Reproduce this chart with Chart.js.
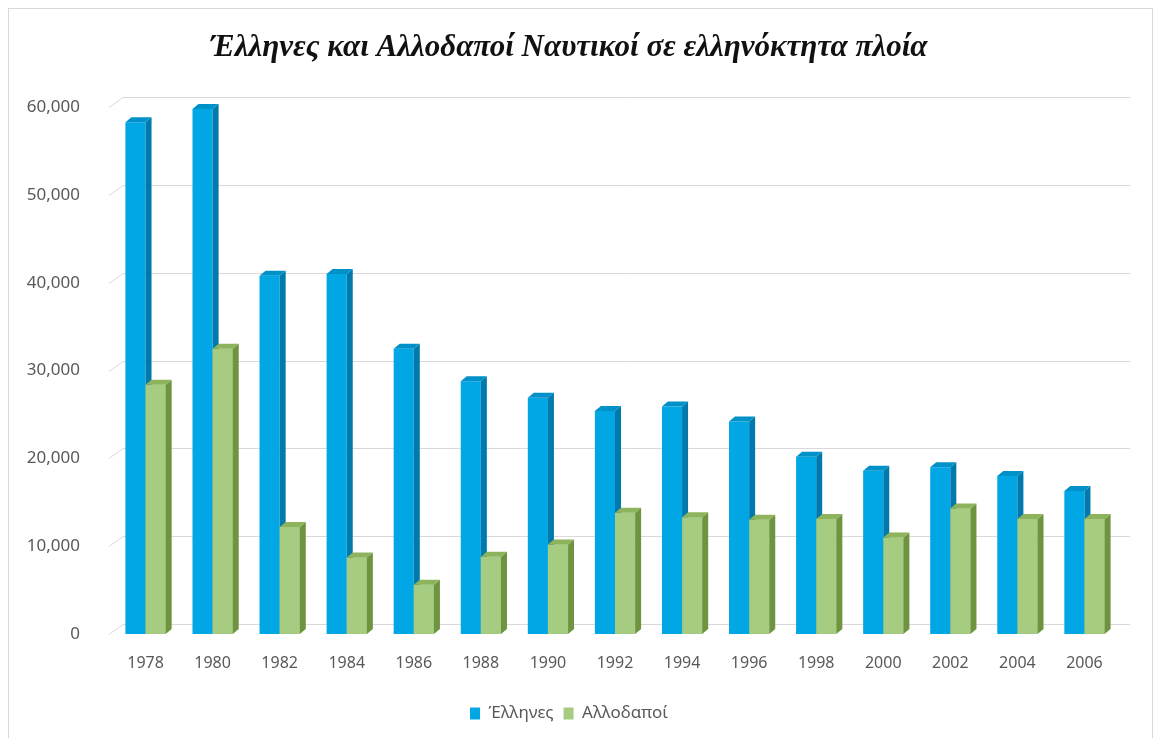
<!DOCTYPE html>
<html>
<head>
<meta charset="utf-8">
<script src="https://cdn.jsdelivr.net/npm/chart.js@4/dist/chart.umd.min.js"></script>
<style>
  html, body { margin: 0; padding: 0; background: #fff; overflow: hidden; }
  #frame { position: absolute; left: 8px; top: 8px; width: 1143px; height: 760px; border: 1px solid #d9d9d9; }
  #wrap { position: absolute; left: 0; top: 0; width: 1159px; height: 738px; }
</style>
</head>
<body>
<div id="frame"></div>
<div id="wrap"><canvas id="chart" width="1159" height="738"></canvas></div>
<script>
// years on the x axis
const years = ['1978', '1980', '1982', '1984', '1986', '1988', '1990', '1992',
  '1994', '1996', '1998', '2000', '2002', '2004', '2006'];

// Greek seafarers
const greeks = [58300, 59800, 40800, 41000, 32500, 28800, 26900, 25400,
  25900, 24200, 20200, 18600, 19000, 18000, 16300];

// foreign seafarers
const foreigners = [28400, 32500, 12200, 8700, 5600, 8800, 10200, 13800,
  13300, 13000, 13100, 11000, 14300, 13100, 13100];

const yTicks = [0, 10000, 20000, 30000, 40000, 50000, 60000];

const title = 'Έλληνες και Αλλοδαποί Ναυτικοί σε ελληνόκτητα πλοία';

// faces for the fake 3d look: [side, top]
const faceColors = [
  ['#0079ad', '#0091c9'],
  ['#6f9440', '#8db35c']
];

// back wall grid lines, shifted up and right like the excel 3d chart
const wallGrid = {
  id: 'wallGrid',
  beforeDatasetsDraw(chart) {
    const ctx = chart.ctx;
    const y = chart.scales.y;
    const area = chart.chartArea;
    ctx.save();
    ctx.strokeStyle = '#d9d9d9';
    ctx.lineWidth = 1;
    for (const v of yTicks) {
      const py = Math.round(y.getPixelForValue(v)) + 0.5;
      ctx.beginPath();
      ctx.moveTo(area.left - 3, py);
      ctx.lineTo(area.left + 11, py - 10);
      ctx.lineTo(area.right + 12, py - 10);
      ctx.stroke();
    }
    ctx.restore();
  }
};

function drawFaces(ctx, bars, cols) {
  const dx = 6, dy = 5;
  for (const bar of bars) {
    const r = bar.x + bar.width / 2;
    const l = bar.x - bar.width / 2;
    ctx.fillStyle = cols[0];
    ctx.beginPath();
    ctx.moveTo(r, bar.y);
    ctx.lineTo(r + dx, bar.y - dy);
    ctx.lineTo(r + dx, bar.base - dy);
    ctx.lineTo(r, bar.base);
    ctx.closePath();
    ctx.fill();
    ctx.fillStyle = cols[1];
    ctx.beginPath();
    ctx.moveTo(l, bar.y);
    ctx.lineTo(l + dx, bar.y - dy);
    ctx.lineTo(r + dx, bar.y - dy);
    ctx.lineTo(r, bar.y);
    ctx.closePath();
    ctx.fill();
  }
}

// blue depth first, then the green bars again on top of it
const barDepth = {
  id: 'barDepth',
  afterDatasetsDraw(chart) {
    const ctx = chart.ctx;
    ctx.save();
    drawFaces(ctx, chart.getDatasetMeta(0).data, faceColors[0]);
    const green = chart.getDatasetMeta(1).data;
    for (const bar of green) bar.draw(ctx);
    drawFaces(ctx, green, faceColors[1]);
    ctx.restore();
  }
};

const ctx = document.getElementById('chart').getContext('2d');

new Chart(ctx, {
  type: 'bar',
  data: {
    labels: years,
    datasets: [{
      label: 'Έλληνες',
      data: greeks,
      backgroundColor: '#00a7e4',
      categoryPercentage: 0.6,
      barPercentage: 1.0
    }, {
      label: 'Αλλοδαποί',
      data: foreigners,
      backgroundColor: '#a5cc80',
      categoryPercentage: 0.6,
      barPercentage: 1.0
    }]
  },
  options: {
    responsive: false,
    animation: false,
    layout: {
      padding: { left: 20, right: 41, top: 0, bottom: 6 }
    },
    scales: {
      x: {
        grid: { display: false },
        border: { display: false },
        ticks: {
          color: '#595959',
          padding: 12,
          font: { family: 'Noto Sans', size: 16 }
        },
        afterFit(scale) { scale.height = 61; }
      },
      y: {
        min: 0,
        max: 60000,
        grid: { display: false },
        border: { display: false },
        ticks: {
          stepSize: 10000,
          color: '#595959',
          padding: 24,
          font: { family: 'Noto Sans', size: 17 }
        },
        afterFit(scale) { scale.width = 92; }
      }
    },
    plugins: {
      title: {
        display: true,
        text: title,
        color: '#111',
        font: { family: 'Liberation Serif', size: 31, style: 'italic', weight: 'bold' },
        padding: { top: 29, bottom: 41 }
      },
      legend: {
        position: 'bottom',
        labels: {
          boxWidth: 10,
          boxHeight: 12,
          padding: 10,
          color: '#595959',
          font: { family: 'Noto Sans', size: 17 }
        }
      },
      tooltip: { enabled: false }
    }
  },
  plugins: [wallGrid, barDepth]
});
</script>
</body>
</html>
